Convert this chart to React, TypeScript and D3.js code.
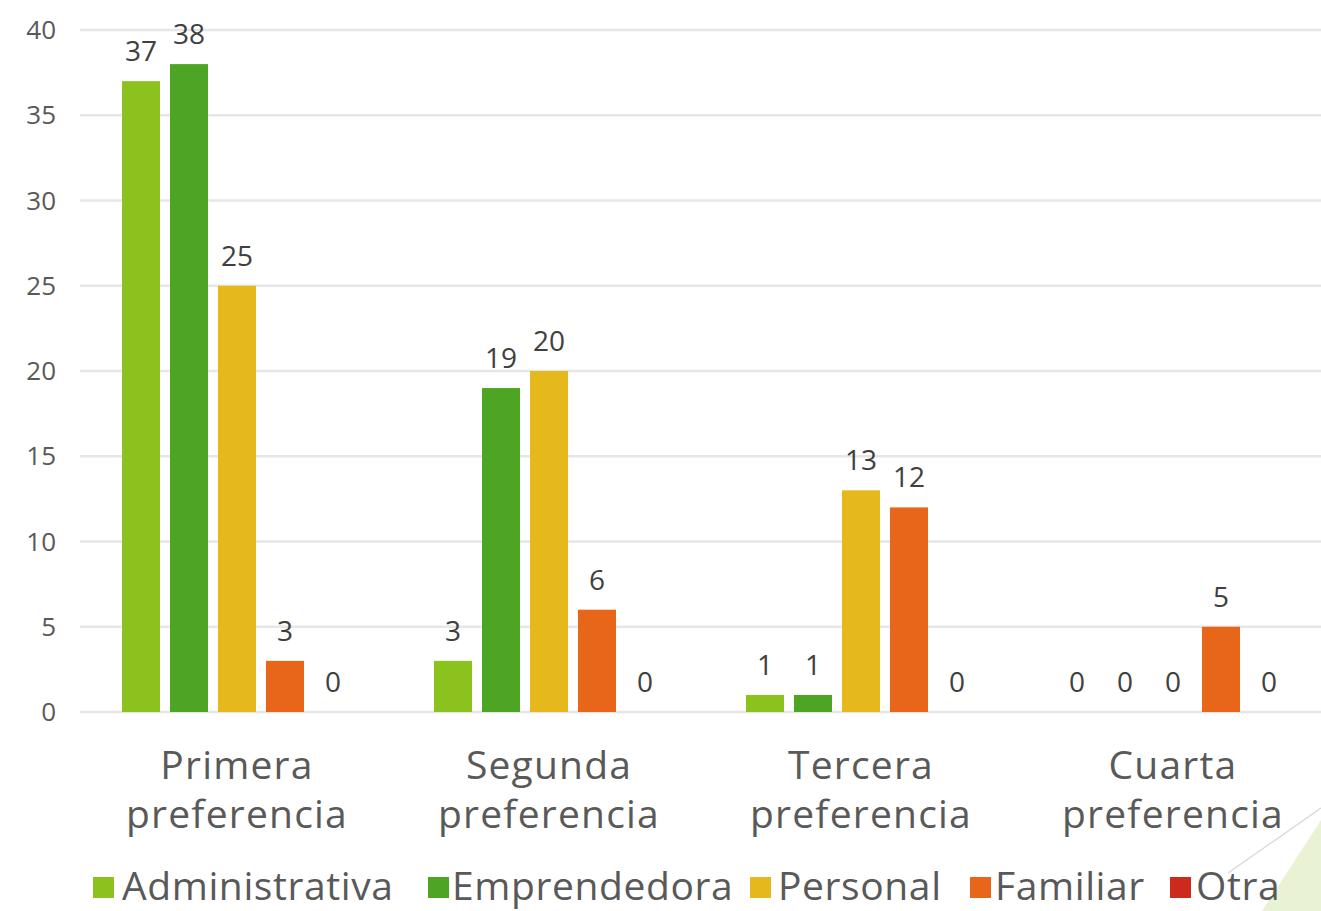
import React from "react";
import * as d3 from "d3";

const categories = ["Primera preferencia", "Segunda preferencia", "Tercera preferencia", "Cuarta preferencia"];
const seriesNames = ["Administrativa", "Emprendedora", "Personal", "Familiar", "Otra"];
const seriesColors = ["#8CC21E", "#4EA524", "#E5B81C", "#E8661A", "#CC2A1C"];
const administrativa = [37, 3, 1, 0];
const emprendedora = [38, 19, 1, 0];
const personal = [25, 20, 13, 0];
const familiar = [3, 6, 12, 5];
const otra = [0, 0, 0, 0];
const yTicks = [0, 5, 10, 15, 20, 25, 30, 35, 40];

const seriesValues = [administrativa, emprendedora, personal, familiar, otra];

const W = 1321;
const H = 911;
const FONT = "'Open Sans', 'DejaVu Sans', sans-serif";

export default function App() {
  const y = d3.scaleLinear().domain([0, 40]).range([712, 30]);
  const x0 = d3.scaleBand<string>().domain(categories).range([81, 1329]).paddingInner(0).paddingOuter(0);
  const inner = d3
    .scaleBand<string>()
    .domain(seriesNames)
    .range([(x0.bandwidth() - 240) / 2, (x0.bandwidth() + 240) / 2])
    .paddingInner(10 / 48)
    .paddingOuter(5 / 48);

  const legendItems = [
    { sq: 93, tx: 122 },
    { sq: 428, tx: 452 },
    { sq: 750, tx: 778 },
    { sq: 970, tx: 995 },
    { sq: 1170, tx: 1196 },
  ];

  return (
    <svg width={W} height={H} style={{ position: "absolute", left: 0, top: 0, background: "#fff" }}>
      <rect x={0} y={0} width={W} height={H} fill="#fff" />
      {/* decoration */}
      <polygon points="1262,911 1321,820 1321,911" fill="#E4F0C8" opacity={0.8} />
      <line x1={1228} y1={873} x2={1321} y2={808} stroke="#d6d6d6" strokeWidth={1.2} />
      {/* gridlines */}
      {yTicks.map((t) => (
        <line key={t} x1={80} x2={W} y1={y(t)} y2={y(t)} stroke="#E6E6E6" strokeWidth={2.5} />
      ))}
      {yTicks.map((t) => (
        <text key={"l" + t} x={56} y={y(t) + 9} textAnchor="end" fontFamily={FONT} fontSize={26} fill="#595959">
          {t}
        </text>
      ))}
      {categories.map((c, ci) => (
        <g key={c} transform={`translate(${x0(c)},0)`}>
          {seriesNames.map((s, si) => {
            const v = seriesValues[si][ci];
            const bx = inner(s)!;
            const bw = inner.bandwidth();
            return (
              <g key={s}>
                {v > 0 && (
                  <rect x={bx} y={y(v)} width={bw} height={y(0) - y(v)} fill={seriesColors[si]} />
                )}
                <text
                  x={bx + bw / 2}
                  y={y(v) - 20}
                  textAnchor="middle"
                  fontFamily={FONT}
                  fontSize={28}
                  fill="#404040"
                >
                  {v}
                </text>
              </g>
            );
          })}
          <text
            x={x0.bandwidth() / 2}
            textAnchor="middle"
            fontFamily={FONT}
            fontSize={39}
            letterSpacing={1.2}
            fill="#595959"
          >
            {c.split(" ").map((w, li) => (
              <tspan key={w} x={x0.bandwidth() / 2} y={779 + li * 49}>
                {w}
              </tspan>
            ))}
          </text>
        </g>
      ))}
      {/* legend */}
      {seriesNames.map((s, i) => (
        <g key={s}>
          <rect x={legendItems[i].sq} y={877} width={21} height={21} fill={seriesColors[i]} />
          <text x={legendItems[i].tx} y={900} fontFamily={FONT} fontSize={39} letterSpacing={0.6} fill="#595959">
            {s}
          </text>
        </g>
      ))}
    </svg>
  );
}
